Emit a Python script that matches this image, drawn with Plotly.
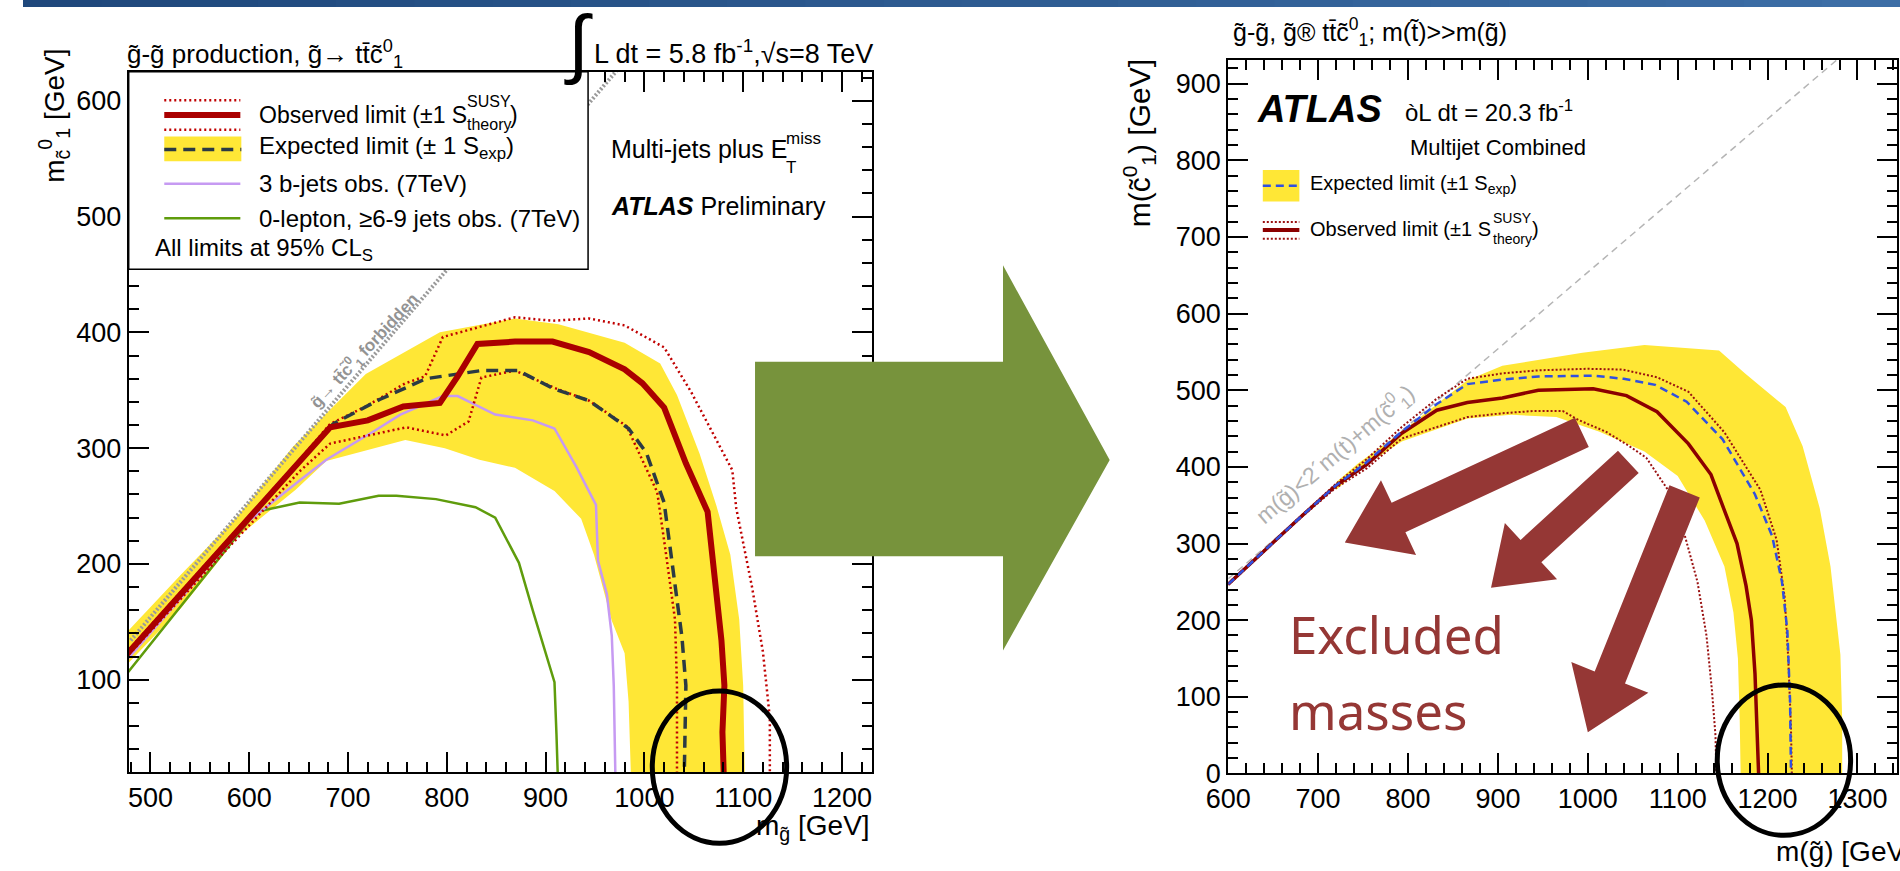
import math
import plotly.graph_objects as go

W, H = 1900, 871
FONT = "Liberation Sans, Arial, Helvetica, sans-serif"

# ---------------- data: left plot (5.8 fb-1, sqrt(s)=8 TeV) ----------------
L_obs_x = [475, 682, 720, 756, 793, 811, 831, 869, 907, 944, 980, 998, 1020, 1042, 1064, 1071, 1078, 1081, 1079, 1081]
L_obs_y = [121, 318, 324, 336, 339, 362, 390, 392, 392, 383, 368, 356, 335, 287, 245, 188, 134, 95, 55, 0]
L_obsp_x = [475, 651, 682, 718, 758, 778, 796, 869, 907, 944, 980, 1020, 1047, 1089, 1093, 1109, 1120, 1127, 1127]
L_obsp_y = [123, 290, 321, 336, 356, 362, 396, 413, 410, 412, 406, 387, 349, 281, 248, 180, 124, 67, 0]
L_obsm_x = [475, 651, 682, 759, 799, 822, 835, 869, 909, 944, 982, 1013, 1022, 1031, 1033, 1033]
L_obsm_y = [119, 280, 304, 318, 311, 323, 361, 367, 352, 341, 319, 262, 208, 152, 95, 0]
L_exp_x = [475, 685, 732, 779, 835, 872, 909, 944, 984, 1002, 1020, 1029, 1038, 1042, 1040]
L_exp_y = [121, 321, 342, 360, 367, 367, 351, 341, 317, 296, 253, 194, 137, 95, 0]
L_band_hi_x = [475, 531, 589, 644, 718, 793, 869, 913, 980, 1016, 1033, 1056, 1073, 1087, 1096, 1100, 1102]
L_band_hi_y = [140, 191, 242, 301, 364, 400, 412, 407, 391, 373, 346, 295, 250, 208, 152, 95, 0]
L_band_lo_x = [475, 531, 589, 647, 678, 758, 798, 833, 869, 909, 936, 949, 967, 980, 984, 987]
L_band_lo_y = [112, 162, 224, 264, 289, 307, 300, 290, 283, 263, 239, 208, 151, 123, 81, 0]
L_3b_x = [475, 598, 651, 678, 727, 753, 796, 811, 849, 887, 909, 931, 951, 953, 962, 967, 969, 971]
L_3b_y = [116, 236, 272, 290, 315, 329, 345, 345, 329, 324, 317, 284, 251, 203, 174, 138, 95, 0]
L_0l_x = [475, 607, 651, 691, 731, 749, 789, 829, 849, 873, 887, 909, 911, 913]
L_0l_y = [104, 245, 253, 252, 259, 259, 256, 249, 240, 201, 160, 98, 53, 0]
L_kin_x = [480, 975]
L_kin_y = [134, 629]

# ---------------- data: right plot (20.3 fb-1) ----------------
R_obs_x = [600, 641, 680, 719, 754, 793, 832, 866, 905, 945, 1006, 1043, 1077, 1112, 1137, 1153, 1166, 1176, 1182, 1186, 1189, 1190]
R_obs_y = [247, 292, 334, 375, 403, 444, 474, 484, 490, 500, 502, 493, 472, 430, 390, 340, 300, 245, 200, 130, 50, 0]
R_exp_x = [600, 641, 680, 719, 754, 793, 832, 866, 905, 945, 1006, 1040, 1075, 1110, 1150, 1186, 1205, 1216, 1222, 1225, 1226]
R_exp_y = [247, 292, 334, 375, 406, 446, 482, 508, 514, 518, 519, 515, 507, 485, 436, 364, 310, 250, 186, 95, 0]
R_obsp_x = [600, 641, 680, 719, 754, 793, 832, 866, 905, 945, 1000, 1039, 1077, 1112, 1152, 1192, 1210, 1219, 1223, 1226, 1227]
R_obsp_y = [248, 293, 335, 377, 410, 452, 489, 515, 522, 526, 528, 527, 517, 498, 445, 370, 305, 230, 150, 60, 0]
R_obsm_x = [600, 641, 680, 719, 754, 793, 832, 866, 905, 940, 972, 990, 1020, 1045, 1065, 1088, 1108, 1122, 1132, 1138, 1142, 1143]
R_obsm_y = [246, 291, 333, 372, 398, 437, 452, 465, 470, 473, 473, 461, 446, 428, 412, 372, 310, 250, 180, 110, 50, 0]
R_band_hi_x = [720, 744, 793, 866, 905, 994, 1063, 1146, 1175, 1220, 1239, 1258, 1270, 1276, 1281, 1283, 1283]
R_band_hi_y = [380, 404, 446, 513, 532, 549, 559, 552, 522, 478, 427, 346, 270, 210, 155, 70, 0]
R_band_lo_x = [720, 744, 793, 866, 915, 965, 1013, 1063, 1100, 1130, 1152, 1162, 1167, 1169, 1170]
R_band_lo_y = [370, 395, 433, 463, 468, 465, 446, 420, 388, 330, 270, 210, 150, 70, 0]
R_kin_x = [600, 1290]
R_kin_y = [254, 944]

# tick values
L_xticks = [500, 600, 700, 800, 900, 1000, 1100, 1200]
L_yticks = [100, 200, 300, 400, 500, 600]
R_xticks = [600, 700, 800, 900, 1000, 1100, 1200, 1300]
R_yticks = [0, 100, 200, 300, 400, 500, 600, 700, 800, 900]


def px(x):
    return x / W


def py(y):
    return 1 - y / H


fig = go.Figure()


def line(x, y, color, width, dash="solid", ax="x", ay="y"):
    fig.add_trace(go.Scatter(x=x, y=y, mode="lines", xaxis=ax, yaxis=ay,
                             line=dict(color=color, width=width, dash=dash),
                             hoverinfo="skip", showlegend=False))


def band(xh, yh, xl, yl, ax="x", ay="y"):
    fig.add_trace(go.Scatter(x=xh + xl[::-1], y=yh + yl[::-1], mode="lines", fill="toself",
                             fillcolor="#ffe736", line=dict(width=0), xaxis=ax, yaxis=ay,
                             hoverinfo="skip", showlegend=False))


# ---- left plot ----
band(L_band_hi_x, L_band_hi_y, L_band_lo_x, L_band_lo_y)
line(L_kin_x, L_kin_y, "#9a9a9a", 4, "2px,2px")
line(L_0l_x, L_0l_y, "#5f9c0c", 2.5)
line(L_3b_x, L_3b_y, "#c69af2", 2.5)
line(L_obsp_x, L_obsp_y, "#c00000", 2.5, "2px,3px")
line(L_obsm_x, L_obsm_y, "#c00000", 2.5, "2px,3px")
line(L_exp_x, L_exp_y, "#2b3a44", 3.5, "12px,7px")
line(L_obs_x, L_obs_y, "#aa0000", 6)

# ---- right plot ----
band(R_band_hi_x, R_band_hi_y, R_band_lo_x, R_band_lo_y, "x2", "y2")
line(R_kin_x, R_kin_y, "#b5b5b5", 1.5, "7px,5px", "x2", "y2")
line(R_obsp_x, R_obsp_y, "#9a1010", 2, "2px,2px", "x2", "y2")
line(R_obsm_x, R_obsm_y, "#9a1010", 2, "2px,2px", "x2", "y2")
line(R_obs_x, R_obs_y, "#8b0000", 3.5, "solid", "x2", "y2")
line(R_exp_x, R_exp_y, "#3050e0", 2.5, "8px,5px", "x2", "y2")

axis_common = dict(showline=True, linecolor="black", linewidth=2, mirror="allticks",
                   ticks="inside", ticklen=20, tickwidth=1.5, tickcolor="black",
                   showgrid=False, zeroline=False,
                   tickfont=dict(family=FONT, size=27, color="black"),
                   minor=dict(ticks="inside", ticklen=10, tickwidth=1.5, tickcolor="black",
                              dtick=20, showgrid=False))

fig.update_layout(
    width=W, height=H, margin=dict(l=0, r=0, t=0, b=0),
    paper_bgcolor="white", plot_bgcolor="white", showlegend=False,
    xaxis=dict(axis_common, domain=[px(107), px(859)], range=[478, 1230],
               tickvals=L_xticks, anchor="y"),
    yaxis=dict(axis_common, domain=[py(786), py(73)], range=[20, 625],
               tickvals=L_yticks, anchor="x"),
    xaxis2=dict(axis_common, domain=[px(1220), px(1897)], range=[600, 1344],
                tickvals=R_xticks, anchor="y2"),
    yaxis2=dict(axis_common, domain=[py(787), py(61)], range=[0, 931],
                tickvals=R_yticks, anchor="x2"),
)

shapes = []

# top banner gradient
n = 24
c0, c1 = (0x1f, 0x48, 0x7c), (0x3d, 0x6e, 0xa6)
for i in range(n):
    t = i / (n - 1)
    col = "rgb(%d,%d,%d)" % tuple(int(a + (b - a) * t) for a, b in zip(c0, c1))
    shapes.append(dict(type="rect", xref="paper", yref="paper", x0=px(W * i / n), x1=px(W * (i + 1) / n + 1),
                       y0=py(7), y1=1, line=dict(width=0), fillcolor=col, layer="above"))

# left legend box
shapes.append(dict(type="rect", xref="paper", yref="paper", x0=px(107), x1=px(572), y0=py(274), y1=py(73),
                   line=dict(color="black", width=1.5), fillcolor="white", layer="above"))


def seg(x0, x1, y, color, width, dash="solid"):
    shapes.append(dict(type="line", xref="paper", yref="paper", x0=px(x0), x1=px(x1), y0=py(y), y1=py(y),
                       line=dict(color=color, width=width, dash=dash), layer="above"))


def box(x0, x1, y0, y1, color):
    shapes.append(dict(type="rect", xref="paper", yref="paper", x0=px(x0), x1=px(x1), y0=py(y1), y1=py(y0),
                       line=dict(width=0), fillcolor=color, layer="above"))


seg(143, 220, 102, "#c00000", 2.5, "2px,3px")
seg(143, 220, 117, "#aa0000", 6)
seg(143, 220, 132, "#c00000", 2.5, "2px,3px")
box(143, 221, 139, 164, "#ffe736")
seg(143, 221, 152, "#2b3a44", 3.5, "12px,7px")
seg(143, 220, 187, "#c69af2", 2.5)
seg(143, 220, 222, "#5f9c0c", 2.5)

# right legend
box(1255, 1292, 173, 205, "#ffe736")
seg(1255, 1292, 189, "#3050e0", 2.5, "8px,5px")
seg(1255, 1292, 226, "#9a1010", 2, "2px,2px")
seg(1255, 1292, 234, "#8b0000", 4)
seg(1255, 1292, 243, "#9a1010", 2, "2px,2px")


def poly(pts, color):
    path = "M " + " L ".join("%.5f,%.5f" % (px(x), py(y)) for x, y in pts) + " Z"
    shapes.append(dict(type="path", xref="paper", yref="paper", path=path,
                       fillcolor=color, line=dict(width=0), layer="above"))


def arrow(tail, tip, sw, hw, hl, color):
    (x0, y0), (x1, y1) = tail, tip
    dx, dy = x1 - x0, y1 - y0
    L = math.hypot(dx, dy)
    ux, uy = dx / L, dy / L
    nx, ny = -uy, ux
    bx, by = x1 - ux * hl, y1 - uy * hl
    pts = [(x0 + nx * sw / 2, y0 + ny * sw / 2), (bx + nx * sw / 2, by + ny * sw / 2),
           (bx + nx * hw / 2, by + ny * hw / 2), (x1, y1),
           (bx - nx * hw / 2, by - ny * hw / 2), (bx - nx * sw / 2, by - ny * sw / 2),
           (x0 - nx * sw / 2, y0 - ny * sw / 2)]
    poly(pts, color)


# big green arrow
poly([(741, 368), (992, 368), (992, 270), (1100, 468), (992, 662), (992, 566), (741, 566)], "#77933c")

RED = "#953735"
arrow((1578, 440), (1338, 552), 33, 84, 60, RED)
arrow((1625, 470), (1486, 598), 31, 78, 55, RED)
arrow((1682, 500), (1584, 745), 33, 84, 60, RED)

# ellipses
shapes.append(dict(type="circle", xref="paper", yref="paper", x0=px(637), x1=px(773), y0=py(858), y1=py(703),
                   line=dict(color="black", width=5), layer="above"))
shapes.append(dict(type="circle", xref="paper", yref="paper", x0=px(1715), x1=px(1850), y0=py(850), y1=py(697),
                   line=dict(color="black", width=5), layer="above"))

fig.update_layout(shapes=shapes)


def txt(x, y, s, size, xanchor="left", yanchor="middle", color="black", angle=0, family=FONT):
    fig.add_annotation(x=px(x), y=py(y), xref="paper", yref="paper", text=s, showarrow=False,
                       xanchor=xanchor, yanchor=yanchor, textangle=angle,
                       font=dict(size=size, color=color, family=family))


g = "g\u0303"
chi = "c\u0303<sup>0</sup><sub>1</sub>"
tbar = "t\u0304"

# left titles
txt(103, 55, f"{g}-{g} production, {g}\u2192 t{tbar}{chi}", 26)
txt(562, 44, "\u222b", 76, xanchor="center")
txt(576, 53, "L dt = 5.8 fb<sup>-1</sup>,\u221as=8 TeV", 27)
# left legend texts
txt(237, 117, "Observed limit (\u00b11 S", 23)
txt(447, 103, "SUSY", 16)
txt(447, 127, "theory", 16)
txt(491, 117, ")", 23)
txt(237, 150, "Expected limit (\u00b1 1 S<sub>exp</sub>)", 24)
txt(237, 187, "3 b-jets obs. (7TeV)", 24)
txt(237, 222, "0-lepton, \u22656-9 jets obs. (7TeV)", 24)
txt(132, 254, "All limits at 95% CL<sub>S</sub>", 24)
# left labels
txt(593, 152, "Multi-jets plus E", 25)
txt(770, 141, "miss", 17)
txt(770, 170, "T", 17)
txt(593, 210, "<b><i>ATLAS</i></b> Preliminary", 25)
fig.add_annotation(x=717, y=384, xref="x", yref="y", text=f"<b>{g}\u2192 t{tbar}{chi} forbidden</b>",
                   showarrow=False, textangle=-47, font=dict(size=17, color="#939393", family=FONT))
# left axis titles
txt(32, 48, f"m<sub>c\u0303</sub><sup>0</sup><sub>1</sub> [GeV]", 28, xanchor="center", yanchor="top", angle=-90)
txt(859, 842, f"m<sub>{g}</sub> [GeV]", 28, xanchor="right")

# right titles
txt(1223, 33, f"{g}-{g}, {g}\u00ae t{tbar}{chi}; m(t\u0303)>>m({g})", 25)
txt(1247, 111, "<b><i>ATLAS</i></b>", 38)
txt(1397, 113, "\u00f2L dt = 20.3 fb<sup>-1</sup>", 24)
txt(1402, 150, "Multijet Combined", 22)
txt(1301, 188, "Expected limit (\u00b11 S<sub>exp</sub>)", 20)
txt(1301, 233, "Observed limit (\u00b11 S", 20)
txt(1486, 222, "SUSY", 14)
txt(1486, 243, "theory", 14)
txt(1525, 233, ")", 20)
fig.add_annotation(x=718, y=417, xref="x2", yref="y2", text=f"m({g})<2\u00b4m(t)+m({chi})",
                   showarrow=False, textangle=-40.5, font=dict(size=23, color="#b0b0b0", family=FONT))
txt(1130, 58, f"m({chi}) [GeV]", 30, xanchor="center", yanchor="top", angle=-90)
txt(1915, 866, f"m({g}) [GeV]", 28, xanchor="right")

# excluded masses
txt(1279, 645, "Excluded", 51, color=RED, family="Noto Sans, Open Sans, sans-serif")
txt(1279, 722, "masses", 51, color=RED, family="Noto Sans, Open Sans, sans-serif")

fig.write_html("out.html", config={"displayModeBar": False},
               post_script="document.body.style.margin='0px';")
